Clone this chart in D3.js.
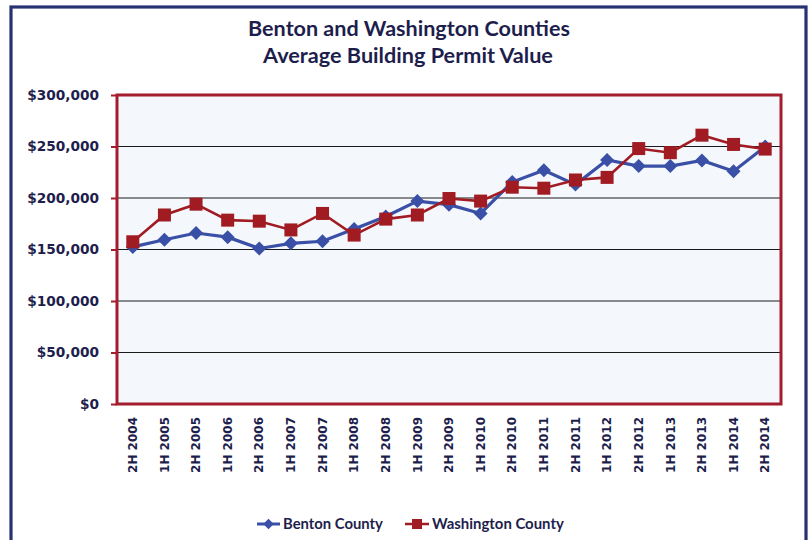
<!DOCTYPE html>
<html><head><meta charset="utf-8">
<script src="https://cdn.jsdelivr.net/npm/d3@7"></script>
<style>body{margin:0;background:#fff}svg{display:block}</style>
</head><body>
<script>
const categories = ["2H 2004","1H 2005","2H 2005","1H 2006","2H 2006","1H 2007","2H 2007","1H 2008","2H 2008","1H 2009","2H 2009","1H 2010","2H 2010","1H 2011","2H 2011","1H 2012","2H 2012","1H 2013","2H 2013","1H 2014","2H 2014"];
const benton = [152500,159500,166000,162000,151000,156000,158000,170000,182000,197000,193500,185000,215500,227000,213000,237000,231000,231000,236500,226000,250000];
const washington = [157500,183500,194000,178500,177500,169000,185000,164000,179500,183500,199500,197000,210500,209500,217500,220000,248000,244000,261000,252000,247500];
const yTicks = [0,50000,100000,150000,200000,250000,300000];
const seriesNames = ["Benton County","Washington County"];
const titleLines = ["Benton and Washington Counties","Average Building Permit Value"];

const W=809,H=540;
const navy="#1e1e4d", frameCol="#283172", red="#a31d2c", blue="#3a4fa6", wred="#a11b22";
const svg=d3.select("body").append("svg").attr("width",W).attr("height",H);

// outer frame
svg.append("rect").attr("x",11).attr("y",7).attr("width",795).attr("height",560)
  .attr("fill","#fff").attr("stroke",frameCol).attr("stroke-width",3.2);

const L=117,R=781,T=95,B=404;
const x=d3.scaleBand().domain(categories).range([L,R]);
const y=d3.scaleLinear().domain([0,300000]).range([B,T]);

function fit(sel,target){
  const fs=parseFloat(sel.attr("font-size"));
  const w=sel.node().getComputedTextLength();
  const nf=fs*target/w; sel.attr("font-size",nf); return nf;
}

// title
const t1=svg.append("text").attr("x",409).attr("y",36).attr("text-anchor","middle")
  .attr("font-family","Lato").attr("font-weight","bold").attr("font-size",18).attr("fill",navy).text(titleLines[0]);
fit(t1,322);
const t2=svg.append("text").attr("x",408).attr("y",63).attr("text-anchor","middle")
  .attr("font-family","Lato").attr("font-weight","bold").attr("font-size",18).attr("fill",navy).text(titleLines[1]);
fit(t2,290);

// plot bg
svg.append("rect").attr("x",L).attr("y",T).attr("width",R-L).attr("height",B-T).attr("fill","#f4f8fd");

// gridlines
svg.append("g").selectAll("line").data(yTicks.filter(d=>d>0&&d<300000)).join("line")
  .attr("x1",L).attr("x2",R).attr("y1",d=>y(d)).attr("y2",d=>y(d))
  .attr("stroke","#1a1a1a").attr("stroke-width",1);

// y axis
const yAxis=svg.append("g").attr("transform",`translate(${L},0)`)
  .call(d3.axisLeft(y).tickValues(yTicks).tickSize(6).tickPadding(12).tickFormat(d=>"$"+d3.format(",")(d)));
yAxis.select(".domain").remove();
yAxis.selectAll(".tick line").attr("stroke",red).attr("stroke-width",2);
yAxis.selectAll(".tick text").attr("font-family","DejaVu Sans").attr("font-weight","bold")
  .attr("font-size",13.7).attr("fill",navy);

// x axis labels
const xAxis=svg.append("g").attr("transform",`translate(0,${B})`)
  .call(d3.axisBottom(x).tickSize(0).tickPadding(0));
xAxis.select(".domain").remove();
xAxis.selectAll(".tick text").attr("font-family","DejaVu Sans").attr("font-weight","bold")
  .attr("font-size",12).attr("fill",navy)
  .attr("transform","rotate(-90)").attr("text-anchor","end")
  .attr("x",-13).attr("y",0).attr("dy","0.35em");

// plot border
svg.append("rect").attr("x",L).attr("y",T).attr("width",R-L).attr("height",B-T)
  .attr("fill","none").attr("stroke",red).attr("stroke-width",3);

const cx=d=>x(d)+x.bandwidth()/2;
const line=d3.line().x((d,i)=>cx(categories[i])).y(d=>y(d));

// Benton
svg.append("path").datum(benton).attr("d",line).attr("fill","none").attr("stroke",blue).attr("stroke-width",3.2);
const diamond=d3.symbol().type(d3.symbolDiamond2).size(125);
svg.append("g").selectAll("path").data(benton).join("path")
  .attr("d",diamond).attr("transform",(d,i)=>`translate(${cx(categories[i])},${y(d)})`).attr("fill",blue);

// Washington
svg.append("path").datum(washington).attr("d",line).attr("fill","none").attr("stroke",wred).attr("stroke-width",2.6);
svg.append("g").selectAll("rect").data(washington).join("rect")
  .attr("x",(d,i)=>cx(categories[i])-6.5).attr("y",d=>y(d)-6.5).attr("width",13).attr("height",13).attr("fill",wred);

// legend
const lg=svg.append("g");
lg.append("line").attr("x1",257).attr("x2",280).attr("y1",524).attr("y2",524).attr("stroke",blue).attr("stroke-width",3);
lg.append("path").attr("d",d3.symbol().type(d3.symbolDiamond2).size(70)()).attr("transform","translate(268.5,524)").attr("fill",blue);
const l1=lg.append("text").attr("x",283).attr("y",529).attr("font-family","Lato").attr("font-weight","bold")
  .attr("font-size",14).attr("fill",navy).text(seriesNames[0]);
fit(l1,100);
lg.append("line").attr("x1",405).attr("x2",429).attr("y1",524).attr("y2",524).attr("stroke",wred).attr("stroke-width",2.5);
lg.append("rect").attr("x",412).attr("y",519).attr("width",10).attr("height",10).attr("fill",wred);
const l2=lg.append("text").attr("x",432).attr("y",529).attr("font-family","Lato").attr("font-weight","bold")
  .attr("font-size",14).attr("fill",navy).text(seriesNames[1]);
fit(l2,132);
</script>
</body></html>
